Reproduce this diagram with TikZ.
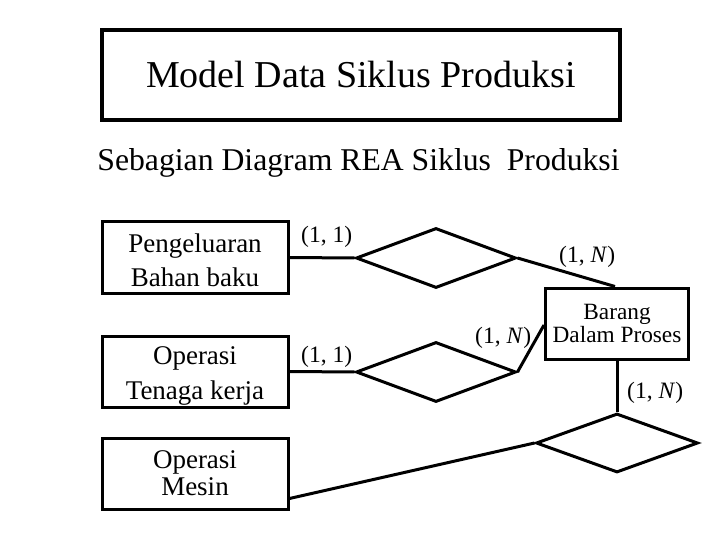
\documentclass[tikz,border=0pt]{standalone}
\usepackage{fontspec}
\setmainfont{Liberation Serif}
\usetikzlibrary{shapes.geometric}
\begin{document}
\begin{tikzpicture}[x=1pt,y=-1pt,
  ent/.style={draw, line width=3pt, minimum width=186pt, minimum height=71pt, inner sep=0pt, align=center},
  etext/.style={inner sep=0pt, align=center},
  rel/.style={draw, diamond, line width=3pt, minimum width=160pt, minimum height=60pt, inner sep=0pt},
  conn/.style={line width=3pt},
  card/.style={inner sep=0pt, anchor=west, font=\fontsize{23.5}{26}\selectfont}]
\useasboundingbox (0,0) rectangle (720,540);
\fill[white] (0,0) rectangle (720,540);
% title
\node[draw, line width=4.5pt, minimum width=518pt, minimum height=90pt, inner sep=0pt,
      font=\fontsize{38}{40}\selectfont] (title) at (361,75) {Model Data Siklus Produksi};
\node[inner sep=0pt, font=\fontsize{31.7}{34}\selectfont] (sub) at (358.5,163) {Sebagian Diagram REA Siklus\ \ Produksi};
% entities
\node[ent] (pb) at (195,257.5) {};
\node[etext, font=\fontsize{27}{34}\selectfont] (pbt) at (195,260) {Pengeluaran\\Bahan baku};
\node[ent] (tk) at (195,371.5) {};
\node[etext, font=\fontsize{27}{35}\selectfont] (tkt) at (195,376) {Operasi\\Tenaga kerja};
\node[ent, font=\fontsize{27}{27}\selectfont] (om) at (195,473.5) {Operasi\\Mesin};
\node[draw, line width=3pt, minimum width=143pt, minimum height=71pt, inner sep=0pt, align=center,
      font=\fontsize{23.3}{20}\selectfont] (bdp) at (617,323.5) {Barang\\Dalam Proses};
% relationships
\node[rel] (r1) at (436,258) {};
\node[rel] (r2) at (436,372) {};
\node[rel, minimum width=162pt, minimum height=59pt] (r3) at (617,443) {};
% connectors
\draw[conn] (pb.east) -- (r1.west);
\draw[conn] (tk.east) -- (r2.west);
\draw[conn] (r1.east) -- ([xshift=-2pt]bdp.north);
\draw[conn] (r2.east) -- ([yshift=-1.5pt]bdp.west);
\draw[conn] (bdp.south) -- (r3.north);
\draw[conn] ([yshift=12pt]om.south east) -- (r3.west);
% cardinalities
\node[card] (c1) at (301,237) {(1, 1)};
\node[card] (c2) at (301,357) {(1, 1)};
\node[card] (c3) at (559,257) {(1, \textit{N})};
\node[card] (c4) at (475,338) {(1, \textit{N})};
\node[card] (c5) at (627,393) {(1, \textit{N})};
\end{tikzpicture}
\end{document}
